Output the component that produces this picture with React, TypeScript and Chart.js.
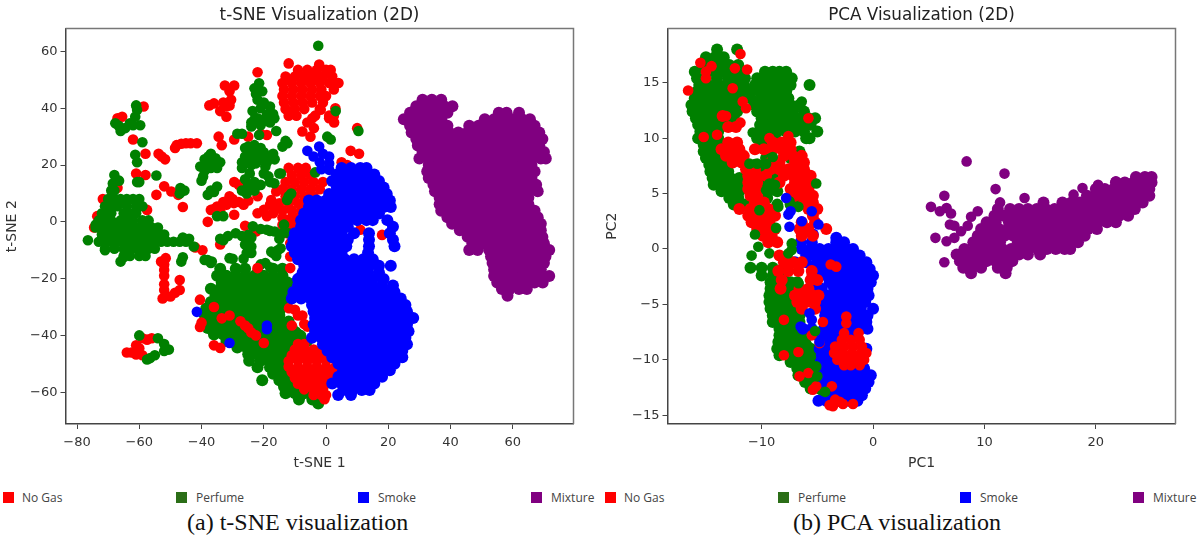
import { useRef, useEffect } from 'react';
import Chart from 'chart.js/auto';

type Pair = [number, number];
type Row = [number, number[]];

const legendLabels = ['No Gas', 'Perfume', 'Smoke', 'Mixture'];
const legendColors = ['#ff0000', '#2b6e17', '#0000ff', '#800080'];
const legendSquareLeft = [3, 176, 358, 531, 605, 778, 960, 1133];
const legendTextLeft = [22, 196, 378, 551, 624, 798, 980, 1153];

const tsneXTicks = [-80, -60, -40, -20, 0, 20, 40, 60];
const tsneYTicks = [-60, -40, -20, 0, 20, 40, 60];
const pcaXTicks = [-10, 0, 10, 20];
const pcaYTicks = [-15, -10, -5, 0, 5, 10, 15];

// t-SNE: scattered points as [x, y], dense areas as [y, [x...]]
const tsneNoGasLow: Pair[] = [
  [-67, 36.5], [-65.5, 37], [-58.6, 40.6], [-62, 29], [-58, 24], [-61, 17], [-58, 16.5], [-67, 12], [-71.7, 8],
  [-53.8, 24], [-51.7, 22], [-48, 27], [-45, 27.7], [-41.5, 27.7], [-48.5, 26], [-46.5, 27.5], [-43.5, 27.7], [-52, 12.5], [-49.7, 10.7],
  [-54.5, 9.5], [-47.5, 9.5], [-46, 5.2], [-57.5, 4.2], [-73.5, 2], [-74.5, -2], [-66, 7.7], [-52.8, 23],
  [-36, 41.7], [-34, 39], [-32, 37], [-30.5, 43], [-32.5, 48], [-29.5, 48], [-37.5, 41], [-32, 40.6], [-34.5, 30], [-31, 46], [-31, 41], [-33, 42],
  [-33.5, 27], [-29.5, 29], [-22, 52.7], [-25, 30], [-19, 30.6], [-21, 31],
  [-29.5, 14], [-28, 13], [-31, 9], [-33, 7], [-35, 5.4], [-37, 4.2], [-29.6, 6.6], [-26.5, 6], [-38, 0], [-29.5, 2.5],
  [-26, -1.4], [-22.5, -3.4], [-34, -8], [-20, 4.2], [-17.6, 7.7], [-16, 10.7], [-22, 9],
  [-32, 6], [-30, 8], [-28, 7], [-34, 4], [-36, 4.5], [-25, 7.5], [-22, 3], [-19, 2], [-17, 3], [-16, 5], [-18, 6],
  [-12, 55.8], [-22, -17], [-3.9, 33], [-7.6, 31.8], [-5, 30], [-1.7, 39.5], [-4.4, 36.5], [1, 36.5], [2.6, 35],
  [10, 33], [7.9, 25], [10.6, 24], [5, 21], [6.8, 20], [3, 40], [-2.2, 55.4], [11, -2.8], [18, -4.6], [-6, 35], [-11.5, -12.2], [-11.5, -7.5], [-12.5, -4],
  [-51.5, -12.8], [-53, -14], [-52, -15], [-52, -19], [-52, -24], [-52.5, -27], [-50, -26.3], [-47, -24], [-47, -20.5], [-48.5, -25], [-52, -22], [-52, -17],
  [-39.7, -10], [-42, -9],
  [-64, -46], [-61, -46.7], [-59, -47], [-61, -43.5], [-59, -41], [-56, -41], [-60, -44.5], [-62.5, -46], [-57.5, -41.5],
];
const tsneNoGasLowRows: Row[] = [
  [53.5, [-9, -6, -3, 0, 1.5]],
  [51.2, [-13, -10, -7, -4, -1, 2]],
  [48.9, [-14, -11, -8, -5, -2, 1, 4]],
  [46.6, [-13.5, -10.5, -7.5, -4.5, -1.5, 2.5]],
  [44.3, [-14, -11, -8, -5, -2, 0]],
  [42, [-13.5, -10.5, -7.5, -4.5, -1]],
  [39.7, [-13, -10, -7, -2]],
  [37.4, [-12, -9.5, -3.5, 1, 2.5]],
  [19, [-12, -9, -6.5]],
  [16.5, [-11, -8, -5]],
  [14, [-13, -10, -7, -4, -1]],
  [11.5, [-14, -11, -8, -5, -2]],
  [9, [-13, -10, -7, -4]],
  [6.5, [-15, -12, -9, -7]],
  [4, [-14, -11, -8]],
  [1.5, [-14, -11, -9]],
  [-1, [-14, -12, -10]],
];
const tsneNoGasTop: Pair[] = [
  [-22, -16.3], [-11.5, -16.3], [-40.5, -27.4], [-40.5, -37], [-36, -43.5], [-34, -44.4],
  [-11.9, -30.4], [-10, -31], [-11, -36.5], [-7.6, -33], [-6, -36.9], [-9, -33], [-7, -36],
  [-36, -30], [-33.5, -34], [-31, -33], [-27.5, -35], [-25, -37.5], [-22.5, -40], [-20, -42.7], [-26, -36.5], [-24, -39], [-40, -35.5],
  [-9, -43], [-7, -43], [-10, -45], [-7, -45], [-4, -45], [-1, -45], [-11, -47], [-8, -47], [-5, -47], [-2, -47], [1, -47],
  [-12, -49], [-9, -49], [-6, -49], [-3, -49], [0, -49], [-12, -51], [-9, -51], [-6, -51], [-3, -51], [0, -51], [3, -51],
  [-11, -53], [-8, -53], [-5, -53], [-2, -53], [1, -53], [3.5, -52.5], [-10, -55], [-7, -55], [-4, -55], [-1, -55], [1, -55],
  [-9, -57], [-6, -57], [-3, -57], [0, -57], [-7, -59], [-4, -59], [-1, -59], [-4, -61], [-1.5, -61], [0, -61], [-0.5, -62.5],
];
const tsnePerfumePoints: Pair[] = [
  [-76.5, -6.5], [-71, -10], [-74, -1], [-68, 11], [-68.5, 13.5], [-68, 16.5], [-66.5, 14.5], [-69, 11],
  [-65, -12.5], [-46, -5.5], [-44, -6], [-66, -14],
  [-66.6, 33.8], [-63, 34.7], [-60.7, 39.4], [-61.3, 37], [-59.7, 34], [-64.5, 33], [-67.7, 34.7], [-59, 28], [-61.3, 23.6], [-60.7, 21],
  [-66, 32], [-62, 34], [-61, 41], [-60, 14], [-60.7, 14], [-54.5, 16.3], [-46.8, 11.9], [-47, 10], [-45.5, 11],
  [-46.5, -14], [-46, -12.5], [-39, -13.4], [-36.7, -14], [-42.5, -8.7], [-38, -13.5],
  [-60, -40], [-57.5, -48.5], [-55, -47], [-52, -45.5], [-50.5, -45], [-52, -43], [-54, -41], [-56.5, -48],
  [-21.5, 48.8], [-23, 47], [-22, 43], [-23.6, 39], [-18, 40.6], [-19, 37.7], [-16.6, 36.5], [-22, 36.5], [-24, 33.6], [-28.5, 31],
  [-16, 32], [-21.5, 30.6], [-21, 40], [-22.5, 45], [-27, 31], [-23, 36], [-21, 34], [-20, 36], [-18, 35], [-17, 38], [-20, 42], [-20.5, 46], [-24, 35],
  [-25, 26.5], [-26, 23], [-27, 19], [-24.5, 17], [-21, 26], [-21.5, 22], [-18.5, 23], [-16.5, 22], [-19.5, 19.5], [-22.5, 20.6],
  [-14.5, 17], [-18.5, 16], [-16.6, 13.6], [-24, 12.4], [-25.5, 10], [-21, 13], [-24, 23], [-23, 14],
  [-26, 26], [-24, 25], [-23, 27], [-25.5, 21], [-24, 20], [-27, 21], [-22, 24], [-20, 24.5], [-19, 21], [-17, 24], [-20, 17], [-18, 14], [-26, 15], [-25, 13], [-23, 11], [-27, 11],
  [-40.4, 19.5], [-37.8, 23], [-35.5, 22.4], [-38.3, 20.6], [-35, 19], [-39.5, 16], [-40, 14.5], [-35, 12.4], [-37, 11], [-38, 9.5],
  [-39, 18], [-37, 19], [-36, 21], [-39, 22], [-37, 24], [-34, 21], [-36, 10.5],
  [-35, 2], [-33, 2], [-34, -6], [-31.5, -5], [-29, -4], [-25, -4.6], [-23.5, -1.6], [-19, -2.8], [-16.5, -3.4], [-21, -2.5], [-18, -3.2],
  [-25, -6.3], [-25.5, -11], [-24, -8.7], [-26.5, -13], [-31, -12.8], [-15.5, -10], [-17.6, -10.5], [-19.5, -14.5], [-34, -17],
  [-27, -5], [-33, -6.5], [-24, -5.5], [-24, -11], [-26, -8], [-17, -11], [-16, -12], [-21, -15], [-18, -16], [-30, -13], [-37, -14.5],
  [-2.5, 62], [3.1, 39], [0.4, 30], [1.5, 29], [10.4, 32], [-12.4, 27.7], [-14, 26.5], [-13, 28.5], [-3.5, 17.4], [-12, 9], [-11.2, 10],
  [-12.5, 7.7], [-15, 17], [-12, -4], [-14, -4], [-14.6, -9.3], [-13.5, -1], [-15, -6],
  [-14, -21], [-10.3, -21.5], [-6, -42.2], [-9.7, -38.6], [-8, -40],
];
const tsnePerfumeLeftRows: Row[] = [
  [8, [-70, -68, -66, -64, -62, -60]],
  [5.5, [-71, -69, -67, -64, -61, -59]],
  [3, [-72, -70, -69, -65, -63, -61]],
  [0.5, [-73, -71, -69, -66, -64, -62, -59, -57]],
  [-2, [-74, -72, -70, -68, -66, -64, -62, -60, -58, -56, -54]],
  [-4.5, [-72, -70, -68, -66, -64, -62, -60, -58, -56, -54, -52]],
  [-7, [-73, -71, -69, -67, -65, -63, -61, -59, -57, -55, -53, -51, -49, -47, -45]],
  [-9.5, [-71, -68, -65, -63, -61, -59, -57, -55]],
  [-12, [-65, -63, -60, -58]],
];
const tsnePerfumeRows: Row[] = [
  [-16.5, [-34, -29, -26, -17, -14]],
  [-19, [-35, -32, -29, -26, -23, -20, -17, -14]],
  [-21.3, [-33.5, -30.5, -27.5, -24.5, -21.5, -18.5, -15.5, -12.5]],
  [-23.6, [-37, -34, -31, -28, -25, -22, -19, -16, -13]],
  [-25.9, [-35.5, -32.5, -29.5, -26.5, -23.5, -20.5, -17.5, -14.5, -11.5]],
  [-28.2, [-37, -34, -31, -28, -25, -22, -19, -16, -13]],
  [-30.5, [-38.5, -35.5, -32.5, -29.5, -26.5, -23.5, -20.5, -17.5, -14.5]],
  [-32.8, [-39, -36, -33, -30, -27, -24, -21, -18, -15]],
  [-35.1, [-38.5, -35.5, -32.5, -29.5, -26.5, -23.5, -20.5, -17.5, -14.5, -12]],
  [-37.4, [-38, -35, -32, -29, -26, -23, -20, -17, -14, -11]],
  [-39.7, [-36, -33, -30, -27, -24, -21, -18, -15, -12, -9]],
  [-42, [-32, -29, -26, -23, -20, -17, -14, -11, -9]],
  [-44.3, [-28.5, -25.5, -22.5, -19.5, -16.5, -13.5, -11]],
  [-46.6, [-25, -22, -19, -16, -13]],
  [-48.9, [-24.7, -21, -18, -15, -13]],
  [-51.2, [-22, -18, -15, -13]],
  [-53.5, [-17, -14.5, -12]],
  [-55.8, [-20.5, -15, -12.5, -10]],
  [-58.1, [-13.5, -11, -9]],
  [-60.4, [-13, -10, -7, -4]],
  [-62.6, [-8.7, -4.4, -2.5]],
  [-64, [-2.5]],
];
const tsneSmokePoints: Pair[] = [
  [-41.5, -31.7], [-31, -42.7], [-19, -37.8], [-19, -36.5], [-9.5, -26], [-8.5, -19.5],
  [-6, 25], [-2.2, 26.5], [-4, 23], [-1, 24], [1, 23], [-2, 21], [1, 20.5], [-1.5, 18.5], [1, 18.3],
];
const tsneSmokeRows: Row[] = [
  [19, [5, 8, 11, 13]],
  [16.7, [3.5, 6.5, 9.5, 12.5, 15.5]],
  [14.4, [2, 5, 8, 11, 14, 17]],
  [12.1, [3.5, 6.5, 9.5, 12.5, 15.5, 18.5]],
  [9.8, [1, 4, 7, 10, 13, 16, 19.5]],
  [7.5, [-5.5, -3, 0, 3, 6, 9, 12, 15, 18, 20.5]],
  [5.2, [-5.5, -2.5, 0.5, 3.5, 6.5, 9.5, 12.5, 15.5, 18.5, 20.8]],
  [2.9, [-7, -4, -1, 2, 5, 8, 11, 14, 17]],
  [0.6, [-8, -5, -2, 1, 4, 7, 10, 13, 15, 19.7]],
  [-1.7, [-8, -5, -2, 1, 4, 7, 21.5]],
  [-4, [-10, -7, -4, -1, 2, 5, 9, 13.8, 20.5]],
  [-6.3, [-10.5, -7.5, -4.5, -1.5, 1.5, 4, 7, 13.8, 21.5]],
  [-8.6, [-11, -8, -5, -2, 1, 4, 6.5, 13.8, 22]],
  [-10.9, [-10, -7, -4, -1, 2, 5, 13.5]],
  [-13.2, [-9, -6, -3, 0, 3, 6, 9, 12, 15]],
  [-15.5, [-7, -4, -1, 2, 5, 8, 11, 14, 17, 20.8]],
  [-17.8, [-7.5, -4.5, -1.5, 1.5, 4.5, 7.5, 10.5, 13.5, 17]],
  [-20.1, [-9, -6, -3, 0, 3, 6, 9, 12, 15, 18.5]],
  [-22.4, [-9, -6, -3, 0, 3, 6, 9, 12, 15, 18, 21.5]],
  [-24.7, [-10.5, -7.5, -4.5, -1.5, 1.5, 4.5, 7.5, 10.5, 13.5, 16.5, 19.5, 22]],
  [-27, [-11, -8, -5, -2, 1, 4, 7, 10, 13, 16, 19, 22, 24]],
  [-29.3, [-4.5, -2, 1, 4, 7, 10, 13, 16, 19, 22, 25.5]],
  [-31.6, [-4, -1, 2, 5, 8, 11, 14, 17, 20, 23, 26]],
  [-33.9, [-3.5, -0.5, 2.5, 5.5, 8.5, 11.5, 14.5, 17.5, 20.5, 23.5, 26.5, 28]],
  [-36.2, [-4, -1, 2, 5, 8, 11, 14, 17, 20, 23, 26]],
  [-38.5, [-3.5, -0.5, 2.5, 5.5, 8.5, 11.5, 14.5, 17.5, 20.5, 23.5, 26.5]],
  [-40.8, [-4.5, -1.5, 1.5, 4.5, 7.5, 10.5, 13.5, 16.5, 19.5, 22.5, 25.5]],
  [-43.1, [-1, 2, 5, 8, 11, 14, 17, 20, 23, 26]],
  [-45.4, [0.5, 3.5, 6.5, 9.5, 12.5, 15.5, 18.5, 21.5, 24.5]],
  [-47.7, [2, 5, 8, 11, 14, 17, 20, 23, 24.5]],
  [-50, [4, 7, 10, 13, 16, 19, 22]],
  [-52.3, [5.5, 8.5, 11.5, 14.5, 17.5, 20.5]],
  [-54.6, [4, 7, 10, 13, 16, 18]],
  [-56.9, [2, 5, 8, 11, 14, 15.5]],
  [-59.2, [5.5, 8.5, 11.5, 14]],
  [-61, [3.9, 8]],
];
const tsneMixtureRows: Row[] = [
  [43, [31, 34, 37]],
  [40.7, [29, 32, 35, 38, 40.6]],
  [38.4, [27, 30, 33, 36, 39, 55.5, 58, 62]],
  [36.1, [25, 28, 31, 34, 37, 51, 54, 57, 60, 63, 65.5]],
  [33.8, [27, 30, 33, 36, 39, 46, 49, 52, 55, 58, 61, 64, 67]],
  [31.5, [27.5, 30.5, 33.5, 36.5, 39.5, 42.5, 45.5, 48.5, 51.5, 54.5, 57.5, 60.5, 63.5, 66.5, 68.5]],
  [29.2, [29, 32, 35, 38, 41, 44, 47, 50, 53, 56, 59, 62, 65, 68, 69.5]],
  [26.9, [29.5, 32.5, 35.5, 38.5, 41.5, 44.5, 47.5, 50.5, 53.5, 56.5, 59.5, 62.5, 65.5, 68.5]],
  [24.6, [31, 34, 37, 40, 43, 46, 49, 52, 55, 58, 61, 64, 67, 70]],
  [22.3, [30, 33, 36, 39, 42, 45, 48, 51, 54, 57, 60, 63, 66, 69, 70.6]],
  [20, [33, 36, 39, 42, 45, 48, 51, 54, 57, 60, 63, 66]],
  [17.7, [32.5, 35.5, 38.5, 41.5, 44.5, 47.5, 50.5, 53.5, 56.5, 59.5, 62.5, 65.5, 67]],
  [15.4, [33, 36, 39, 42, 45, 48, 51, 54, 57, 60, 63, 66]],
  [13.1, [34.5, 37.5, 40.5, 43.5, 46.5, 49.5, 52.5, 55.5, 58.5, 61.5, 64.5, 67.5]],
  [10.8, [35, 38, 41, 44, 47, 50, 53, 56, 59, 62, 65, 68]],
  [8.5, [36.5, 39.5, 42.5, 45.5, 48.5, 51.5, 54.5, 57.5, 60.5, 63.5, 65]],
  [6.2, [36.5, 39, 42, 45, 48, 51, 54, 57, 60, 63, 65]],
  [3.9, [37, 40, 43, 46, 49, 52, 55, 58, 61, 64, 67]],
  [1.6, [39, 42, 45, 48, 51, 54, 57, 60, 63, 66, 68]],
  [-0.7, [40.5, 43.5, 46.5, 49.5, 52.5, 55.5, 58.5, 61.5, 64.5, 66, 69]],
  [-3, [43, 46, 49, 52, 55, 58, 61, 64, 67, 69]],
  [-5.3, [45.5, 48.5, 51.5, 54.5, 57.5, 60.5, 63.5, 66.5, 69.5]],
  [-7.6, [47, 50, 53, 56, 59, 62, 65, 68, 70]],
  [-9.9, [46, 48.7, 52.4, 55, 58, 61, 64, 67, 70, 71.7]],
  [-12.2, [53, 56, 59, 62, 65, 68, 70.5]],
  [-14.5, [53.5, 56.5, 59.5, 62.5, 65.5, 68.5, 70]],
  [-16.8, [54, 57, 60, 63, 66, 69]],
  [-19.1, [54, 57, 60, 63, 66, 69, 71.7]],
  [-21.4, [55, 58, 61, 64, 67, 69.6]],
  [-23.7, [56.5, 59, 62, 64.5]],
  [-26, [58.3]],
];

// PCA
const pcaNoGasTop: Pair[] = [
  [-16.6, 14.3], [-15.5, 16.8], [-15, 16], [-14.5, 16.5], [-15, 15.4], [-12.4, 16.3], [-11.9, 17.6], [-11.3, 16.2], [-12.6, 14.5],
  [-11.7, 13.3], [-11.4, 12.7], [-11.9, 11.4], [-5.8, 11.8], [-9.3, 10], [-7.6, 10.2], [-15.2, 10.1], [-14, 10.3], [-13.2, 12],
  [-5.5, -2.3], [-5.1, -4.3], [-4.5, -6.6], [-8, -6.4], [-5.5, -7.8], [-4.8, -8.5], [-8, -9.6], [-6.7, -9.3], [-5.8, -11.2], [-6.6, -11.5],
  [-5.1, -12.4], [-5.4, -12.7], [-3.7, -12.4], [-3.4, -13.6], [-3, -13.8], [-3.6, -14.2], [-2.7, -14], [-1.8, -14], [-3.9, -14.1], [-2.4, -6.1],
  [-2.4, -6.7], [-3.8, -1.4], [-3.3, -1.6],
  [-1.3, -7.6], [-2.6, -7.6], [-2.8, -8.2], [-2, -8.2], [-1.2, -8.2], [-3.4, -8.8], [-2.6, -8.8], [-1.8, -8.8], [-1, -8.8],
  [-3.5, -9.4], [-2.7, -9.4], [-1.9, -9.4], [-1.1, -9.4], [-0.6, -9.4], [-3.2, -10], [-2.4, -10], [-1.6, -10], [-0.8, -10],
  [-2.6, -10.5], [-2, -10.5], [-1.2, -10.5],
];
const pcaNoGasBandRows: Row[] = [
  [12, [-13.5]],
  [11, [-13, -12.3]],
  [9.6, [-13, -12.2, -9, -8.2, -7.4]],
  [9, [-13.6, -12.8, -12, -10.6, -9.8, -9, -8.2, -7.4]],
  [8.4, [-13.2, -12.4, -11.6, -8, -7.2, -6.4]],
  [7.8, [-12.6, -11.8, -9.2, -8.4, -7, -6.2]],
  [7.2, [-11.4, -10.6, -9.2, -8.4, -7.6, -6.8, -6.2]],
  [6.6, [-11.2, -10.4, -9.6, -8, -7.2, -6.4, -5.6]],
  [6, [-11.2, -10.4, -8.4, -7, -6.2, -5.5]],
  [5.4, [-11.2, -10.4, -7.4, -6.6, -5.8]],
  [4.8, [-11, -10.4, -7, -6.2, -5.4]],
  [4.2, [-10.6, -9.8, -6.2, -5.4]],
  [3.6, [-12, -11, -10.2, -9.4, -5.8, -5]],
  [3, [-11.2, -10.4, -9.6, -8.8, -5.4]],
  [2.4, [-10.9, -10.1, -9.3, -6.4, -5.2]],
  [1.8, [-10.4, -9.6, -8.8, -6.6, -5.8, -4.2]],
  [1.2, [-9.9, -9.1, -6.4, -5.4]],
  [0.6, [-9.4, -8.6]],
  [-0.6, [-8.4]],
  [-1.2, [-8, -7.2, -6.4]],
  [-2, [-8.5, -7.6, -6.7, -5.5]],
  [-2.8, [-8.2, -5.6, -5]],
  [-3.6, [-8.3, -6.6, -5.8]],
  [-4.2, [-7, -6.2, -5.4, -4.9]],
  [-4.8, [-6.8, -6, -5.2]],
  [-5.4, [-6.4, -5.2]],
];
const pcaPerfumeTop: Pair[] = [
  [-5.1, 5.9], [-9.6, 5.3], [-9.3, 5.9], [-8.8, 5.8], [-11.1, 7.7], [-10.4, 7.7], [-7.5, 4.3], [-6.7, 3.8], [-8.5, 3.8], [-10.2, 3.5],
  [-10.6, 1.3], [-8.7, 1.9], [-6.4, 13.3], [-9, 8.3], [-9.6, 7.7], [-10.8, 10.5], [-10.2, 11.2], [-8.7, 11.4], [-7.3, 0.5], [-7.3, -0.1], [-7.6, -0.4],
  [-5.2, -7.4], [-5, -11.5], [-4.3, -12.9], [-5.1, -10.6], [-5.8, -9.7], [-5.9, -8.7], [-6.5, -8.4], [-6.7, -3.1],
  [-9.3, 15.2], [-9.3, 14.4], [-8.6, 14.8], [-10, 14.8], [-9.7, 13.6], [-8.8, 13.6], [-10.2, 13], [-8.2, 13.6], [-9.3, 12.8],
];
const pcaSmokeTop: Pair[] = [
  [-7.8, 4.6], [-5.5, 3.4], [-7.6, 3.1], [-7.4, 3.4], [-7.5, 2], [-6.4, 2.5], [-4.9, 2.2], [-5.7, -5.8], [-5.5, -6.4], [-4.8, -8.4], [-6.5, -7],
];
const pcaPerfumePoints: Pair[] = [
  [-10.3, 0.2], [-10.9, -0.6], [-9.3, -0.4], [-6.7, -3.1],
];
const pcaPerfumeRows: Row[] = [
  [18, [-14, -12.2]],
  [17.3, [-15, -14.2, -13.4]],
  [16.6, [-15.3, -14.5, -13.7, -12.9, -12.1]],
  [16, [-16, -15, -14.2, -13.4, -12.6, -11.8, -9.7, -9, -8.4, -7.8]],
  [15.4, [-15.8, -15, -14, -13, -12, -11.5, -10.4, -9.6, -8.8, -8, -7.3]],
  [14.8, [-15.6, -14.8, -14, -13.2, -12.4, -11.6, -10.6, -9.8, -9, -8.2, -7.4, -5.7]],
  [14.2, [-15.8, -15, -14.2, -13.4, -12.6, -11.8, -11, -10.2, -9.4, -8.6, -7.8]],
  [13.6, [-16, -15.2, -14.4, -13.6, -12.8, -12, -11, -10, -9.2, -8.4, -7.6]],
  [13, [-16.3, -15.5, -14.7, -13.9, -13.1, -12.3, -10.6, -9.8, -9, -8.2, -7.4, -6.6]],
  [12.4, [-16.2, -15.4, -14.6, -13.8, -13, -12.2, -10.4, -9.6, -8.8, -8, -7.2, -6.2]],
  [11.8, [-15.9, -15.1, -14.3, -13.5, -12.5, -10, -9, -8.2, -7.4, -6.6, -5.8, -5.2]],
  [11.2, [-15.7, -14.9, -14.1, -13.3, -9.6, -8.8, -8, -7.2, -6.4, -5.6]],
  [10.6, [-15.5, -14.7, -13.9, -10.2, -9.4, -8.6, -7.8, -7, -6.2, -5]],
  [10, [-15.7, -14.5, -13.9, -10.4, -9.6, -8.8, -6, -5.7]],
  [9.4, [-15.2, -14.4, -13.6, -10, -9.2]],
  [8.8, [-15.2, -14.4, -13.6, -6.6]],
  [8.2, [-15, -14.2, -13.4, -12.8, -9.6, -7.4]],
  [7.6, [-14.7, -13.9, -13.1, -10.6, -9.8, -8.5]],
  [7, [-14.6, -13.8, -13, -11, -10, -9]],
  [6.4, [-14.4, -13.6, -12.8, -12, -9.6, -8.8]],
  [5.8, [-14.3, -13.5, -12.7, -12, -9.6, -8.8]],
  [5.2, [-13.6, -12.8, -12, -9.4, -8.6]],
  [4.6, [-12.9, -12.1, -9.5, -7.6, -7]],
  [4, [-12.5, -11.5, -8.6, -7.4, -6.6]],
  [3.4, [-11, -10.4]],
  [-1.7, [-11, -10, -9, -8]],
  [-2.4, [-10, -9, -8.1]],
  [-3, [-9.2, -8.4, -7.4, -6.8]],
  [-3.6, [-9.2, -8.4, -7.6]],
  [-4.2, [-9.3, -8.5, -7.7]],
  [-4.8, [-9.3, -8.5, -7.7, -7]],
  [-5.4, [-9.2, -8.4, -7.6, -6.8]],
  [-6, [-9, -8.2, -7.4, -6.6]],
  [-6.6, [-9, -8.2, -7.4, -6.6]],
  [-7.2, [-8.4, -7.6, -6.8]],
  [-7.8, [-8.4, -7.6, -6.8, -6]],
  [-8.4, [-8.5, -7.7, -6.9, -6.1]],
  [-9, [-8.6, -7.8, -7, -6.2, -5.6]],
  [-9.6, [-8.4, -7.6, -6.8, -6, -5.4]],
  [-10.2, [-7.4, -6.6, -5.8, -5.1]],
  [-10.8, [-6.8, -6, -5.2]],
  [-11.4, [-6.7, -5.9, -5]],
  [-12, [-6.1, -5.3]],
  [-12.6, [-5.6, -4.8]],
  [-13, [-4.4]],
];
const pcaSmokeRows: Row[] = [
  [1.3, [-5.4]],
  [1, [-3.3]],
  [0.6, [-6.5, -5.5, -3.3, -2.6]],
  [0, [-6.4, -5.6, -4.8, -4, -3.2, -2.4, -1.8]],
  [-0.6, [-6, -5.2, -4.4, -3.6, -2.8, -2, -1.2]],
  [-1.2, [-7, -6, -5, -4.3, -3.5, -2.7, -1.9, -1.1, -0.6]],
  [-1.8, [-5.4, -4.6, -3.8, -3, -2.2, -1.4, -0.7, -0.3]],
  [-2.4, [-4.7, -3.9, -3.1, -2.3, -1.5, -0.7, 0]],
  [-3, [-3.9, -3.1, -2.3, -1.5, -0.7, -0.2]],
  [-3.6, [-5.4, -4.6, -3.5, -2.7, -1.9, -1.1, -0.5]],
  [-4.2, [-4.2, -3.4, -2.6, -1.8, -1, -0.4]],
  [-4.8, [-4.4, -3.7, -2.9, -2.1, -1.3, -0.7]],
  [-5.4, [-4.4, -3.5, -2.7, -1.9, -1.1, 0]],
  [-6, [-4.3, -3.4, -2.6, -1.8, -1, -0.5]],
  [-6.6, [-3.7, -2.9, -2.1, -1.3, -0.6]],
  [-7.2, [-6.3, -5.5, -4.4, -3.5, -2.7, -1.9, -1.1, -0.5]],
  [-7.8, [-5, -4.2, -3.4, -2.6, -1.6]],
  [-8.4, [-4.7, -3.9, -3.1]],
  [-9, [-4.8, -4, -3.3, -0.6]],
  [-9.6, [-4.6, -3.8]],
  [-10.2, [-4.7, -3.9, -3.1, -2.3, -1.5]],
  [-10.8, [-4.6, -3.8, -3, -2.2, -1.4, -0.8]],
  [-11.4, [-4.5, -3.7, -2.9, -2.1, -1.3, -0.5, -0.2]],
  [-12, [-4.4, -3.6, -2.8, -2, -1.2, -0.4]],
  [-12.6, [-3.9, -3.1, -2.3, -1.5, -0.7]],
  [-13.2, [-4, -3.2, -2.4, -1.6, -1]],
  [-13.7, [-4.9, -4.2, -2.2, -1.4]],
];
const pcaMixturePoints: Pair[] = [
  [8.4, 7.9], [11.8, 6.8], [11, 5.4], [6.4, 4.8], [13.6, 4.6], [5.2, 3.8], [6, 3.4], [6.6, 3.7], [7, 3.2], [9.4, 3.4], [8.8, 2.9], [8.5, 2.1],
  [6.9, 2.2], [7.3, 2.1], [7.9, 1.6], [5.6, 1], [6.6, 0.7], [7.3, 1], [6.4, -1.2], [11.4, 4.2], [18, 4.9], [18.8, 5.5], [20.2, 5.8], [21.8, 6.1],
];
const pcaMixtureRows: Row[] = [
  [6.5, [23.6, 24.4, 25]],
  [6, [21.8, 22.6, 23.4, 24.2, 25]],
  [5.4, [20, 20.8, 21.6, 22.4, 23.2, 24, 24.8]],
  [4.8, [19.2, 20, 20.8, 21.6, 22.4, 23.2, 24, 24.8]],
  [4.2, [15.3, 17, 17.8, 18.6, 19.4, 20.2, 21, 21.8, 22.6, 23.4, 24.2]],
  [3.6, [11.2, 12.3, 13.1, 13.9, 14.7, 15.5, 16.3, 17.1, 17.9, 18.7, 19.5, 20.3, 21.1, 21.9, 22.7, 23.5]],
  [3, [10.9, 11.7, 12.5, 13.3, 14.1, 14.9, 15.7, 16.5, 17.3, 18.1, 18.9, 19.7, 20.5, 21.3, 22.1, 22.9]],
  [2.4, [10.2, 11, 12.2, 13, 13.8, 14.6, 15.4, 16.2, 17, 17.8, 18.6, 19.4, 20.2, 21, 21.8]],
  [1.8, [9.7, 10.5, 11.3, 12.1, 12.9, 13.7, 14.5, 15.3, 16.1, 16.9, 17.7, 18.5, 19.3, 20.1]],
  [1.2, [9.4, 10.2, 11, 11.8, 12.6, 13.4, 14.2, 15, 15.8, 16.6, 17.4, 18.2, 19]],
  [0.6, [9, 9.8, 10.6, 11.4, 13, 13.8, 14.6, 15.4, 16.2, 17, 17.8, 18.4]],
  [0, [8.2, 9.2, 10, 10.8, 11.6, 12.4, 13.2, 14, 14.8, 15.6, 16.4, 17.2, 17.7]],
  [-0.5, [7.5, 8.3, 9.1, 9.9, 10.7, 11.5, 12.3, 13.1, 13.9, 15]],
  [-1.1, [7.8, 8.6, 9.4, 10.2, 11, 11.8, 12.5]],
  [-1.7, [8.1, 8.9, 9.7, 11.2, 12]],
  [-2.2, [8.8, 11.9]],
];

const fromPairs = (pairs: Pair[]) => pairs.map(([x, y]) => ({ x, y }));
const fromRows = (rows: Row[]) => rows.flatMap(([y, xs]) => xs.map((x) => ({ x, y })));

const RED = '#ff0000';
const GREEN = '#008000';
const BLUE = '#0000ff';
const PURPLE = '#800080';
const DOT = 5.3;
const FILL = 6;

// first dataset is drawn on top
const tsneLayers = [
  { color: PURPLE, radius: FILL, data: fromRows(tsneMixtureRows) },
  { color: BLUE, radius: DOT, data: fromPairs(tsneSmokePoints) },
  { color: BLUE, radius: FILL, data: fromRows(tsneSmokeRows) },
  { color: RED, radius: DOT, data: fromPairs(tsneNoGasTop) },
  { color: GREEN, radius: DOT, data: [...fromPairs(tsnePerfumePoints), ...fromRows(tsnePerfumeLeftRows)] },
  { color: GREEN, radius: FILL, data: fromRows(tsnePerfumeRows) },
  { color: RED, radius: DOT, data: [...fromPairs(tsneNoGasLow), ...fromRows(tsneNoGasLowRows)] },
];
const pcaLayers = [
  { color: PURPLE, radius: DOT, data: fromPairs(pcaMixturePoints) },
  { color: PURPLE, radius: FILL, data: fromRows(pcaMixtureRows) },
  { color: BLUE, radius: DOT, data: fromPairs(pcaSmokeTop) },
  { color: GREEN, radius: DOT, data: fromPairs(pcaPerfumeTop) },
  { color: RED, radius: DOT, data: fromPairs(pcaNoGasTop) },
  { color: RED, radius: FILL, data: fromRows(pcaNoGasBandRows) },
  { color: BLUE, radius: FILL, data: fromRows(pcaSmokeRows) },
  { color: GREEN, radius: DOT, data: fromPairs(pcaPerfumePoints) },
  { color: GREEN, radius: FILL, data: fromRows(pcaPerfumeRows) },
];

const formatTick = (v: number | string) => String(v).replace('-', '\u2212');

const framePlugin = {
  id: 'frame',
  afterDatasetsDraw(chart: Chart) {
    const { ctx, chartArea: a } = chart;
    ctx.save();
    ctx.strokeStyle = '#777';
    ctx.lineWidth = 1.5;
    ctx.beginPath();
    ctx.moveTo(a.left, a.top);
    ctx.lineTo(a.right, a.top);
    ctx.lineTo(a.right, a.bottom);
    ctx.stroke();
    ctx.restore();
  },
};

interface PanelProps {
  title: string;
  xLabel: string;
  yLabel: string;
  layers: { color: string; radius: number; data: { x: number; y: number }[] }[];
  xRange: number[];
  yRange: number[];
  xTicks: number[];
  yTicks: number[];
  left: number;
  axisWidth: number;
  rightGap: number;
}

function ScatterPanel(props: PanelProps) {
  const { title, xLabel, yLabel, layers, xRange, yRange, xTicks, yTicks, left, axisWidth, rightGap } = props;
  const canvasRef = useRef<HTMLCanvasElement>(null);

  useEffect(() => {
    if (!canvasRef.current) return;
    const axisFont = { family: 'DejaVu Sans', size: 13 };
    const labelFont = { family: 'DejaVu Sans', size: 14 };
    const chart = new Chart(canvasRef.current, {
      type: 'scatter',
      data: {
        datasets: layers.map((l) => ({
          data: l.data,
          backgroundColor: l.color,
          borderWidth: 0,
          pointRadius: l.radius,
          pointHoverRadius: l.radius,
        })),
      },
      plugins: [framePlugin],
      options: {
        responsive: false,
        animation: false,
        events: [],
        layout: { padding: { left: 0, right: rightGap, top: 0, bottom: 0 } },
        plugins: {
          legend: { display: false },
          tooltip: { enabled: false },
          title: {
            display: true,
            text: title,
            color: '#222',
            fullSize: false,
            font: { family: 'DejaVu Sans', size: 16.8, weight: 'normal' },
            padding: { top: 5.5, bottom: 2.8 },
          },
        },
        scales: {
          x: {
            type: 'linear',
            min: xRange[0],
            max: xRange[1],
            afterBuildTicks: (s: any) => { s.ticks = xTicks.map((value) => ({ value })); },
            afterFit: (s: any) => { s.height = 48; },
            grid: { drawOnChartArea: false, tickLength: 5, tickColor: '#444' },
            border: { color: '#444', width: 1.5 },
            ticks: { color: '#333', font: axisFont, padding: 6, maxRotation: 0, autoSkip: false, callback: formatTick },
            title: { display: true, text: xLabel, color: '#333', font: labelFont, padding: { top: 0, bottom: 0 } },
          },
          y: {
            type: 'linear',
            min: yRange[0],
            max: yRange[1],
            afterBuildTicks: (s: any) => { s.ticks = yTicks.map((value) => ({ value })); },
            afterFit: (s: any) => { s.width = axisWidth; },
            grid: { drawOnChartArea: false, tickLength: 5, tickColor: '#444' },
            border: { color: '#444', width: 1.5 },
            ticks: { color: '#333', font: axisFont, padding: 3, autoSkip: false, callback: formatTick },
            title: { display: true, text: yLabel, color: '#333', font: labelFont, padding: { top: 4, bottom: 0 } },
          },
        },
      },
    } as any);
    return () => chart.destroy();
  }, []);

  return (
    <canvas
      ref={canvasRef}
      width={600}
      height={472}
      style={{ position: 'absolute', left, top: 0, width: 600, height: 472, filter: 'blur(0.4px)' }}
    />
  );
}

export default function App() {
  const legendIndex = legendSquareLeft.map((_, i) => i);
  return (
    <div style={{ position: 'absolute', left: 0, top: 0, width: 1200, height: 535, overflow: 'hidden', background: '#fff' }}>
      <ScatterPanel
        title="t-SNE Visualization (2D)"
        xLabel="t-SNE 1"
        yLabel="t-SNE 2"
        layers={tsneLayers}
        xRange={[-83.7, 79.5]}
        yRange={[-71.2, 68.1]}
        xTicks={tsneXTicks}
        yTicks={tsneYTicks}
        left={0}
        axisWidth={65.5}
        rightGap={26.5}
      />
      <ScatterPanel
        title="PCA Visualization (2D)"
        xLabel="PC1"
        yLabel="PC2"
        layers={pcaLayers}
        xRange={[-18.45, 27.15]}
        yRange={[-15.8, 19.9]}
        xTicks={pcaXTicks}
        yTicks={pcaYTicks}
        left={600}
        axisWidth={67.5}
        rightGap={24.5}
      />
      {legendIndex.map((i) => (
        <div key={`sq${i}`} style={{ position: 'absolute', left: legendSquareLeft[i], top: 492, width: 11, height: 11, background: legendColors[i % 4] }} />
      ))}
      {legendIndex.map((i) => (
        <div key={`tx${i}`} style={{ position: 'absolute', left: legendTextLeft[i], top: 490, fontFamily: 'Open Sans', fontSize: 12, lineHeight: '16px', color: '#444', whiteSpace: 'nowrap' }}>
          {legendLabels[i % 4]}
        </div>
      ))}
      <div style={{ position: 'absolute', left: 187, top: 509, fontFamily: 'Liberation Serif', fontSize: 24, lineHeight: '26px', color: '#111', whiteSpace: 'nowrap' }}>(a) t-SNE visualization</div>
      <div style={{ position: 'absolute', left: 793, top: 509, fontFamily: 'Liberation Serif', fontSize: 24, lineHeight: '26px', color: '#111', whiteSpace: 'nowrap' }}>(b) PCA visualization</div>
    </div>
  );
}
